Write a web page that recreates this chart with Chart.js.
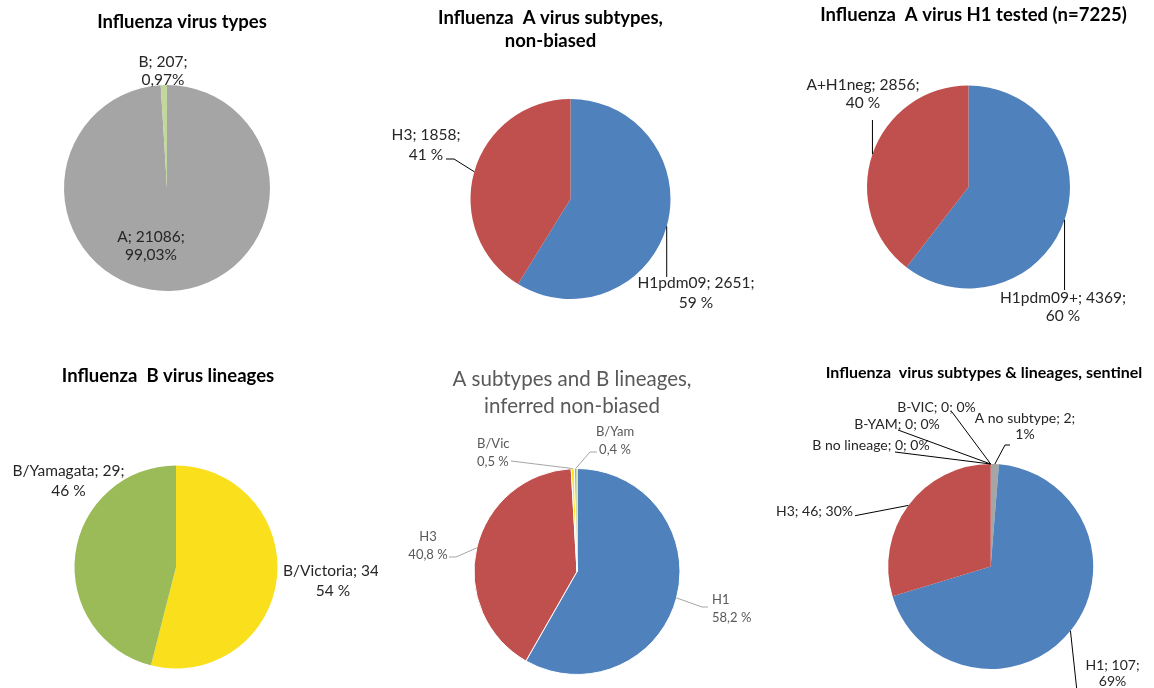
<!DOCTYPE html>
<html>
<head>
<meta charset="utf-8">
<script src="https://cdn.jsdelivr.net/npm/chart.js@4.4.0/dist/chart.umd.min.js"></script>
<style>
  html, body { margin: 0; padding: 0; background: #fff; }
  #board { position: relative; width: 1154px; height: 688px; overflow: hidden; }
  #board canvas { position: absolute; }
</style>
</head>
<body>
<div id="board"></div>
<script>
// Influenza virus counts per panel
const typeLabels = ['A', 'B'];
const typeCounts = [21086, 207];

const subtypeLabels = ['H1pdm09', 'H3'];
const subtypeCounts = [2651, 1858];

const h1Labels = ['H1pdm09+', 'A+H1neg'];
const h1Counts = [4369, 2856];

const lineageLabels = ['B/Victoria', 'B/Yamagata'];
const lineageCounts = [34, 29];

const inferredLabels = ['H1', 'H3', 'B/Vic', 'B/Yam'];
const inferredShares = [58.2, 40.8, 0.5, 0.4];

const sentinelLabels = ['A no subtype', 'H1', 'H3', 'B no lineage', 'B-YAM', 'B-VIC'];
const sentinelCounts = [2, 107, 46, 0, 0, 0];

(function(){
  const board = document.getElementById('board');
  const FONT = 'Lato, "Open Sans", sans-serif';
  const BLUE = '#4F81BD', RED = '#C0504D', GREY = '#A5A5A5';

  function pct(values, i, digits, suffix) {
    const total = values.reduce((a, b) => a + b, 0);
    return (values[i] / total * 100).toFixed(digits).replace('.', ',') + suffix;
  }

  // Titles, data labels and leader lines, anchored on the arc elements
  const pieLabels = {
    id: 'pieLabels',
    afterDraw(chart, args, o) {
      const ctx = chart.ctx;
      const arcs = chart.getDatasetMeta(0).data;
      ctx.save();
      ctx.textBaseline = 'middle';

      ctx.font = o.titleFont;
      ctx.fillStyle = o.titleColor;
      ctx.textAlign = 'center';
      o.title.forEach((line, k) => ctx.fillText(line, o.titleX, o.titleY + k * o.titleLineHeight));

      o.labels.forEach((lab, i) => {
        const arc = arcs[i];
        if (!lab || !arc) return;
        const p = arc.getProps(['x', 'y', 'startAngle', 'endAngle', 'outerRadius'], true);
        if (lab.leader) {
          const mid = (p.startAngle + p.endAngle) / 2;
          let px = p.x + Math.cos(mid) * p.outerRadius;
          let py = p.y + Math.sin(mid) * p.outerRadius;
          ctx.beginPath();
          ctx.moveTo(px, py);
          lab.leader.forEach(([lx, ly]) => {
            if (lx != null) px = p.x + lx;
            if (ly != null) py = p.y + ly;
            ctx.lineTo(px, py);
          });
          ctx.strokeStyle = o.lineColor;
          ctx.lineWidth = 1;
          ctx.stroke();
        }
        const parts = o.format(i);
        const lines = lab.wrap === false ? [parts.join(' ')] : parts;
        ctx.font = o.font;
        ctx.fillStyle = o.color;
        ctx.textAlign = lab.align || 'center';
        lines.forEach((t, k) => ctx.fillText(t, p.x + lab.at[0], p.y + lab.at[1] + k * o.lineHeight));
      });
      ctx.restore();
    }
  };

  function makePie(panel) {
    const canvas = document.createElement('canvas');
    canvas.width = panel.w;
    canvas.height = panel.h;
    canvas.style.left = panel.x + 'px';
    canvas.style.top = panel.y + 'px';
    board.appendChild(canvas);

    const {cx, cy, r} = panel.pie;
    const text = Object.assign({
      titleFont: 'bold 18.5px ' + FONT,
      titleColor: '#000',
      titleLineHeight: 23,
      font: '15.5px ' + FONT,
      color: '#262626',
      lineColor: '#000',
      lineHeight: 19
    }, panel.text);

    return new Chart(canvas.getContext('2d'), {
      type: 'pie',
      data: {
        labels: panel.labels,
        datasets: [{
          data: panel.values,
          backgroundColor: panel.colors,
          borderColor: '#fff',
          borderWidth: panel.border || 0,
          radius: r
        }]
      },
      options: {
        responsive: false,
        animation: false,
        events: [],
        layout: {
          padding: { left: cx - r, top: cy - r, right: panel.w - cx - r, bottom: panel.h - cy - r }
        },
        plugins: {
          legend: { display: false },
          tooltip: { enabled: false },
          pieLabels: text
        }
      },
      plugins: [pieLabels]
    });
  }

  // Influenza virus types
  makePie({
    x: 0, y: 0, w: 384, h: 344,
    pie: { cx: 167, cy: 188, r: 103 },
    labels: typeLabels, values: typeCounts,
    colors: [GREY, '#C3D69B'],
    text: {
      title: ['Influenza virus types'], titleX: 182, titleY: 22,
      lineHeight: 18,
      format: i => [`${typeLabels[i]}; ${typeCounts[i]};`, pct(typeCounts, i, 2, '%')],
      labels: [
        { at: [-16, 49] },
        { at: [-4, -126] }
      ]
    }
  });

  // Influenza A virus subtypes, non-biased
  makePie({
    x: 384, y: 0, w: 384, h: 344,
    pie: { cx: 186.5, cy: 199, r: 100 },
    labels: subtypeLabels, values: subtypeCounts,
    colors: [BLUE, RED],
    text: {
      title: ['Influenza  A virus subtypes,', 'non-biased'], titleX: 166.5, titleY: 18,
      lineHeight: 20,
      format: i => [`${subtypeLabels[i]}; ${subtypeCounts[i]};`, pct(subtypeCounts, i, 0, ' %')],
      labels: [
        { at: [125.5, 84], leader: [[null, 78]] },
        { at: [-144.5, -64], leader: [[-116.5, -40], [-124.5, -40]] }
      ]
    }
  });

  // Influenza A virus H1 tested
  makePie({
    x: 770, y: 0, w: 384, h: 344,
    pie: { cx: 198.5, cy: 187, r: 101.5 },
    labels: h1Labels, values: h1Counts,
    colors: [BLUE, RED],
    text: {
      title: ['Influenza  A virus H1 tested (n=7225)'], titleX: 203.5, titleY: 15,
      lineHeight: 18,
      format: i => [`${h1Labels[i]}; ${h1Counts[i]};`, pct(h1Counts, i, 0, ' %')],
      labels: [
        { at: [94.5, 111], leader: [[null, 103]] },
        { at: [-105.5, -102], leader: [[null, -67]] }
      ]
    }
  });

  // Influenza B virus lineages (the canvas edge cuts the long right-hand label)
  makePie({
    x: 0, y: 344, w: 378, h: 344,
    pie: { cx: 176, cy: 223, r: 101.5 },
    labels: lineageLabels, values: lineageCounts,
    colors: ['#F9DF1C', '#9BBB59'],
    text: {
      title: ['Influenza  B virus lineages'], titleX: 168, titleY: 32,
      lineHeight: 20,
      format: i => [`${lineageLabels[i]}; ${lineageCounts[i]};`, pct(lineageCounts, i, 0, ' %')],
      labels: [
        { at: [157, 4] },
        { at: [-107.5, -96] }
      ]
    }
  });

  // A subtypes and B lineages, inferred non-biased
  makePie({
    x: 384, y: 344, w: 384, h: 344,
    pie: { cx: 193, cy: 227.5, r: 103 },
    labels: inferredLabels, values: inferredShares,
    colors: [BLUE, RED, '#FFE60F', '#9BBB59'],
    border: 1,
    text: {
      title: ['A subtypes and B lineages,', 'inferred non-biased'], titleX: 188, titleY: 35,
      titleFont: '20.5px ' + FONT, titleColor: '#595959', titleLineHeight: 27,
      font: '13px ' + FONT, color: '#595959', lineColor: '#A6A6A6', lineHeight: 18,
      format: i => [inferredLabels[i], inferredShares[i].toFixed(1).replace('.', ',') + ' %'],
      labels: [
        { at: [135, 28.5], align: 'left', leader: [[125, 35.5], [131, 35.5]] },
        { at: [-149, -34.5], leader: [[-121, -14.5], [-128, -14.5]] },
        { at: [-100, -127.5], align: 'left', leader: [[-66, -110.5]] },
        { at: [38, -139.5], leader: [[13, -119.5], [20, -119.5]] }
      ]
    }
  });

  // Influenza virus subtypes & lineages, sentinel
  makePie({
    x: 770, y: 344, w: 384, h: 344,
    pie: { cx: 220.7, cy: 222.5, r: 102.5 },
    labels: sentinelLabels, values: sentinelCounts,
    colors: [GREY, BLUE, RED, '#F79646', '#8064A2', '#4BACC6'],
    text: {
      title: ['Influenza  virus subtypes & lineages, sentinel'], titleX: 214, titleY: 29,
      titleFont: 'bold 16px ' + FONT,
      font: '14px ' + FONT,
      lineHeight: 16,
      format: i => [`${sentinelLabels[i]}; ${sentinelCounts[i]};`, pct(sentinelCounts, i, 0, '%')],
      labels: [
        { at: [34.3, -148.5], leader: [[14.3, -121.5], [19.3, -121.5]] },
        { at: [121.8, 98.5], leader: [[86.3, 125]] },
        { at: [-176.2, -55.5], wrap: false, leader: [[-135.7, -50.8]] },
        { at: [-119.7, -121.5], wrap: false, leader: [[-95.7, -114.5]] },
        { at: [-93.7, -142.5], wrap: false, leader: [[-92.7, -136.5]] },
        { at: [-54.2, -159.5], wrap: false, leader: [[-38.7, -154.5]] }
      ]
    }
  });
})();
</script>
</body>
</html>
